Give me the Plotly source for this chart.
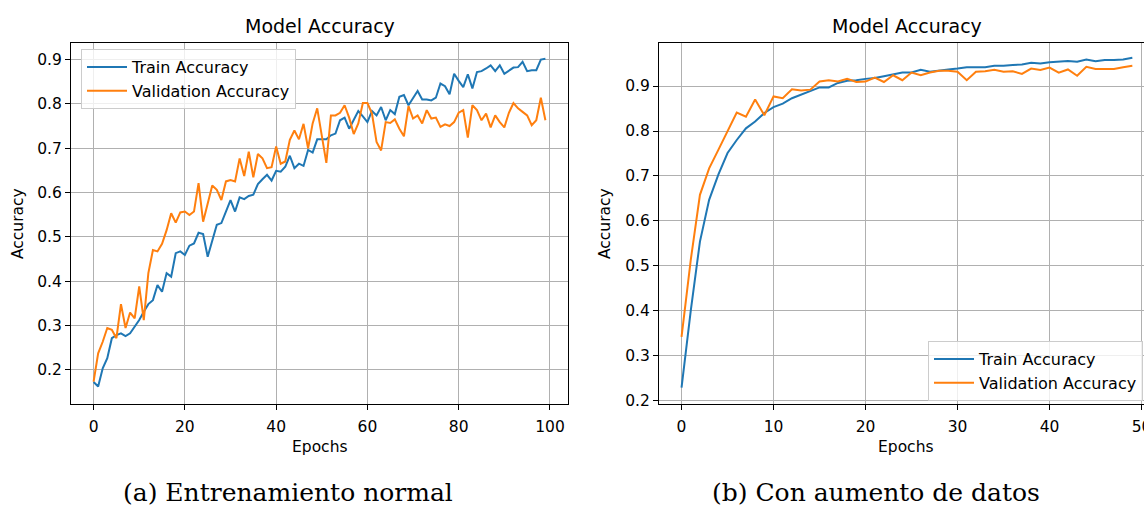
import plotly.graph_objects as go

# ---------------- data ----------------
epochs_a = list(range(100))
train_a = [0.172, 0.162, 0.203, 0.226, 0.271, 0.278, 0.282, 0.276, 0.282, 0.296,
           0.312, 0.331, 0.348, 0.357, 0.391, 0.376, 0.418, 0.410, 0.463, 0.467,
           0.459, 0.480, 0.485, 0.509, 0.506, 0.455, 0.493, 0.527, 0.531, 0.557,
           0.583, 0.557, 0.589, 0.585, 0.592, 0.595, 0.619, 0.630, 0.640, 0.627,
           0.649, 0.647, 0.658, 0.683, 0.655, 0.665, 0.660, 0.696, 0.690, 0.720,
           0.720, 0.720, 0.729, 0.733, 0.763, 0.769, 0.744, 0.763, 0.784, 0.772,
           0.759, 0.784, 0.774, 0.793, 0.763, 0.786, 0.777, 0.816, 0.820, 0.797,
           0.814, 0.829, 0.810, 0.810, 0.808, 0.814, 0.846, 0.840, 0.822, 0.868,
           0.852, 0.838, 0.867, 0.835, 0.872, 0.874, 0.880, 0.887, 0.874, 0.887,
           0.868, 0.876, 0.882, 0.883, 0.895, 0.874, 0.876, 0.876, 0.900, 0.902]
val_a = [0.173, 0.237, 0.263, 0.294, 0.290, 0.271, 0.348, 0.294, 0.329, 0.316,
         0.388, 0.312, 0.418, 0.470, 0.467, 0.484, 0.515, 0.553, 0.532, 0.555,
         0.557, 0.549, 0.557, 0.621, 0.534, 0.578, 0.616, 0.606, 0.583, 0.625,
         0.628, 0.625, 0.677, 0.637, 0.692, 0.634, 0.687, 0.677, 0.655, 0.657,
         0.704, 0.665, 0.670, 0.719, 0.740, 0.720, 0.755, 0.700, 0.756, 0.790,
         0.730, 0.667, 0.774, 0.774, 0.780, 0.797, 0.769, 0.732, 0.756, 0.802,
         0.802, 0.778, 0.714, 0.695, 0.759, 0.757, 0.765, 0.744, 0.727, 0.795,
         0.767, 0.774, 0.756, 0.786, 0.767, 0.769, 0.748, 0.754, 0.750, 0.759,
         0.780, 0.786, 0.724, 0.797, 0.786, 0.763, 0.778, 0.747, 0.774, 0.759,
         0.747, 0.780, 0.802, 0.790, 0.782, 0.774, 0.752, 0.763, 0.814, 0.763]

epochs_b = list(range(50))
train_b = [0.229, 0.400, 0.554, 0.647, 0.703, 0.751, 0.780, 0.806, 0.821, 0.840,
           0.853, 0.861, 0.873, 0.881, 0.888, 0.897, 0.897, 0.907, 0.912, 0.913,
           0.916, 0.918, 0.922, 0.926, 0.930, 0.930, 0.936, 0.932, 0.935, 0.937,
           0.939, 0.942, 0.942, 0.942, 0.945, 0.945, 0.947, 0.948, 0.952, 0.950,
           0.953, 0.954, 0.956, 0.954, 0.959, 0.955, 0.958, 0.958, 0.959, 0.963]
val_b = [0.342, 0.513, 0.658, 0.717, 0.758, 0.799, 0.841, 0.832, 0.870, 0.835,
         0.877, 0.873, 0.893, 0.890, 0.892, 0.910, 0.913, 0.910, 0.916, 0.909,
         0.910, 0.919, 0.909, 0.924, 0.913, 0.930, 0.924, 0.930, 0.934, 0.934,
         0.932, 0.913, 0.932, 0.933, 0.936, 0.932, 0.933, 0.927, 0.939, 0.936,
         0.941, 0.930, 0.937, 0.923, 0.943, 0.938, 0.938, 0.938, 0.942, 0.945]

x_ticks_a = [0, 20, 40, 60, 80, 100]
x_ticks_b = [0, 10, 20, 30, 40, 50]
y_ticks_a = [0.2, 0.3, 0.4, 0.5, 0.6, 0.7, 0.8, 0.9]
y_ticks_b = [0.2, 0.3, 0.4, 0.5, 0.6, 0.7, 0.8, 0.9]

series_names = ["Train Accuracy", "Validation Accuracy"]
chart_title = "Model Accuracy"
x_label = "Epochs"
y_label = "Accuracy"
captions = ["(a) Entrenamiento normal", "(b) Con aumento de datos"]

# ---------------- layout helpers ----------------
W, H = 1144, 506
BLUE, ORANGE = "#1f77b4", "#ff7f0e"
FONT = "DejaVu Sans"
TICK_SIZE = 15.5


def px_x(p):
    return p / W


def px_y(p):
    return 1 - p / H


fig = go.Figure()

fig.add_trace(go.Scatter(x=epochs_a, y=train_a, mode="lines", name=series_names[0],
                         line=dict(color=BLUE, width=2), xaxis="x", yaxis="y", legend="legend"))
fig.add_trace(go.Scatter(x=epochs_a, y=val_a, mode="lines", name=series_names[1],
                         line=dict(color=ORANGE, width=2), xaxis="x", yaxis="y", legend="legend"))
fig.add_trace(go.Scatter(x=epochs_b, y=train_b, mode="lines", name=series_names[0],
                         line=dict(color=BLUE, width=2), xaxis="x2", yaxis="y2", legend="legend2"))
fig.add_trace(go.Scatter(x=epochs_b, y=val_b, mode="lines", name=series_names[1],
                         line=dict(color=ORANGE, width=2), xaxis="x2", yaxis="y2", legend="legend2"))

axis_common = dict(showgrid=True, gridcolor="#b0b0b0", gridwidth=1, zeroline=False,
                   showline=True, linecolor="black", linewidth=1,
                   ticks="outside", ticklen=5, tickwidth=1, tickcolor="black",
                   tickfont=dict(family=FONT, size=TICK_SIZE, color="black"))

top, bottom = 43, 404

legend_common = dict(xanchor="left", yanchor="top", itemwidth=40,
                     bgcolor="rgba(255,255,255,0.8)", bordercolor="#cccccc", borderwidth=1,
                     font=dict(family=FONT, size=16, color="black"), tracegroupgap=0)

fig.update_layout(
    width=W, height=H,
    margin=dict(l=0, r=0, t=0, b=0, autoexpand=False),
    paper_bgcolor="white", plot_bgcolor="white",
    font=dict(family=FONT, color="black"),
    xaxis=dict(domain=[px_x(71), px_x(568)], range=[-4.95, 103.95], anchor="y",
               tickvals=x_ticks_a, mirror=True, ticklabelstandoff=3, **axis_common),
    yaxis=dict(domain=[px_y(bottom), px_y(top)], range=[0.1225, 0.9375], anchor="x",
               tickvals=y_ticks_a, tickformat=".1f", mirror=True, **axis_common),
    xaxis2=dict(domain=[px_x(659), 1.0], range=[-2.45, -2.45 + (W - 659) / 9.2], anchor="y2",
                tickvals=x_ticks_b, mirror=True, ticklabelstandoff=3,
                ticklabeloverflow="allow", **axis_common),
    yaxis2=dict(domain=[px_y(bottom), px_y(top)], range=[0.1927, 0.9958], anchor="x2",
                tickvals=y_ticks_b, tickformat=".1f", mirror=False, **axis_common),
    legend=dict(x=px_x(81), y=px_y(49), **legend_common),
    legend2=dict(x=px_x(928), y=px_y(341), **legend_common),
    showlegend=True,
)

annotations = []
for cx in (320, 907):
    annotations.append(dict(text=chart_title, x=px_x(cx), y=px_y(26), xref="paper", yref="paper",
                            xanchor="center", yanchor="middle", showarrow=False,
                            font=dict(family=FONT, size=19, color="black")))
for cx in (320, 906):
    annotations.append(dict(text=x_label, x=px_x(cx), y=px_y(447), xref="paper", yref="paper",
                            xanchor="center", yanchor="middle", showarrow=False,
                            font=dict(family=FONT, size=TICK_SIZE, color="black")))
for cx in (18, 605):
    annotations.append(dict(text=y_label, x=px_x(cx), y=px_y(224), xref="paper", yref="paper",
                            xanchor="center", yanchor="middle", showarrow=False, textangle=-90,
                            font=dict(family=FONT, size=TICK_SIZE, color="black")))
for cx, cap in zip((288, 876), captions):
    annotations.append(dict(text=cap, x=px_x(cx), y=px_y(492), xref="paper", yref="paper",
                            xanchor="center", yanchor="middle", showarrow=False,
                            font=dict(family="DejaVu Serif", size=25, color="black")))
fig.update_layout(annotations=annotations)

fig.write_html("out.html")
